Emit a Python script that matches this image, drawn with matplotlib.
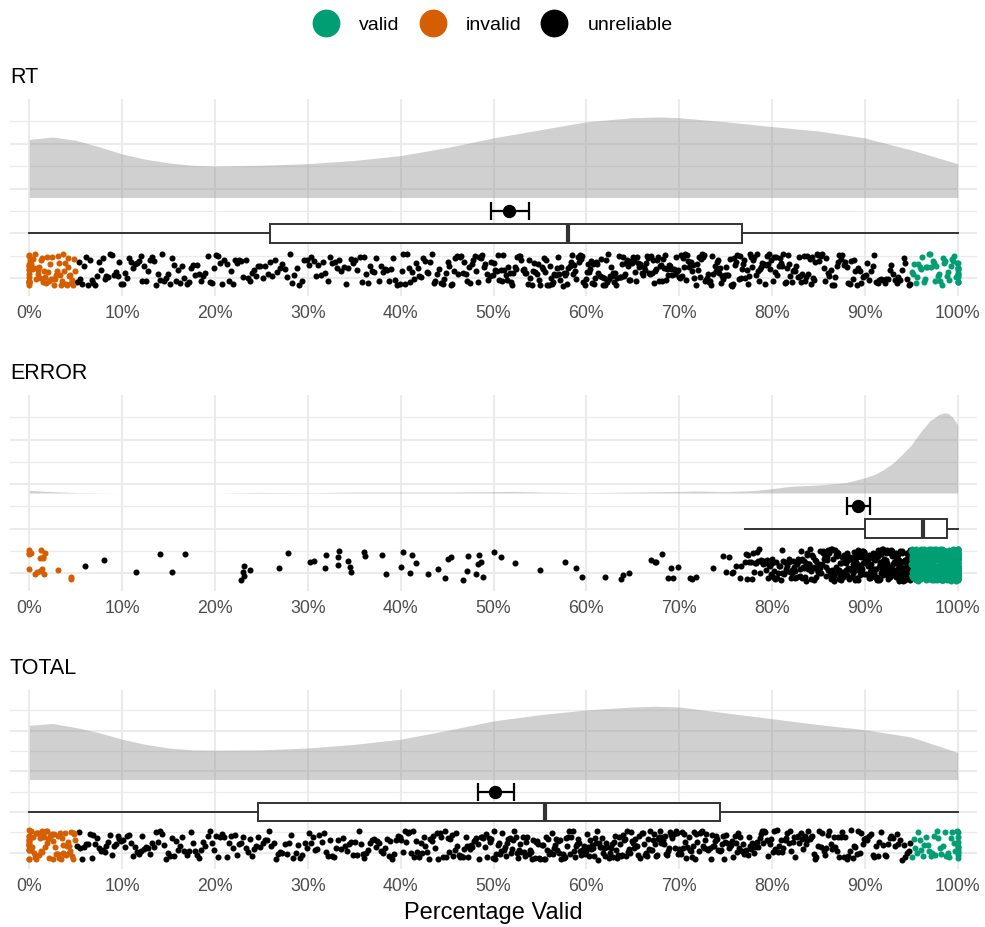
import numpy as np
import matplotlib.pyplot as plt
from matplotlib.lines import Line2D
from matplotlib.ticker import FixedLocator

plt.rcParams['font.family'] = ['Liberation Sans', 'DejaVu Sans']

panel_names = ['RT', 'ERROR', 'TOTAL']
group_names = ['valid', 'invalid', 'unreliable']
group_colors = ['#009E73', '#D55E00', '#000000']
pct_ticks = np.arange(0, 101, 10)
pct_labels = ['{}%'.format(t) for t in pct_ticks]

# participants per 5% bin of percentage valid (0-5, 5-10, ..., 95-100)
bins5 = np.arange(0, 101, 5)
rt_counts = [48, 25, 24, 22, 22, 19, 20, 22, 26, 31, 36, 40, 44, 45, 44, 41, 39, 32, 27, 36]
rt_at_0 = 15
rt_at_100 = 12
total_counts = [55, 25, 24, 22, 22, 21, 22, 25, 29, 34, 39, 42, 45, 45, 42, 39, 35, 32, 27, 30]
total_at_0 = 16
total_at_100 = 10

# ERROR: the few participants below 77%, then counts per 1% bin from 77 to 100
error_low = [0, 0, 0, 0, 0.2, 0.6, 0.8, 1.1, 1.2, 1.3, 1.4, 1.5, 1.5, 1.6, 1.7, 3.1, 4.5, 4.5,
             6.0, 8.0, 11.5, 14.1, 15.4, 16.8, 22.8, 23.0, 23.1, 23.1, 23.8, 26.9, 27.9,
             30.2, 30.7, 31.9, 32.0, 33.3, 33.3, 33.4, 34.3, 34.5, 34.6, 36.0, 36.2, 38.0,
             38.4, 40.0, 40.3, 41.0, 41.2, 41.7, 42.9, 44.0, 44.8, 45.1, 45.4, 46.7, 47.1,
             47.3, 48.1, 48.3, 48.4, 48.6, 48.9, 50.0, 50.8, 52.3, 55.0, 57.7, 58.9, 59.5,
             62.0, 63.7, 64.0, 64.6, 67.0, 67.4, 67.5, 68.1, 68.8, 69.1, 69.3, 69.9, 71.2,
             71.4, 71.8, 73.6, 74.7, 75.0, 75.4, 75.7, 75.8, 76.1, 76.6, 76.7]
bins1 = np.arange(77, 101, 1)
error_counts = [8, 9, 10, 10, 12, 13, 14, 16, 17, 18, 21, 22, 25,
                26, 29, 31, 34, 36, 90, 90, 95, 110, 130]
error_at_100 = 60

# density curves (relative height)
rt_dens_x = [0, 2.5, 5, 7.5, 10, 12.5, 15, 17.5, 20, 25, 30, 35, 40, 45, 50, 55, 60, 65, 68,
             70, 75, 80, 85, 90, 95, 100]
rt_dens = [0.72, 0.75, 0.71, 0.63, 0.54, 0.475, 0.43, 0.40, 0.39, 0.40, 0.42, 0.46, 0.52,
           0.62, 0.74, 0.84, 0.94, 0.99, 1.0, 0.99, 0.94, 0.88, 0.825, 0.74, 0.59, 0.42]
error_dens_x = [0, 2, 5, 10, 15, 20, 25, 30, 35, 40, 45, 50, 52, 55, 60, 65, 70, 72, 75, 78,
                80, 82, 85, 88, 90, 91, 92, 93, 94, 95, 96, 97, 98, 98.6, 99, 99.5, 100]
error_dens = [0.033, 0.02, 0.005, 0, 0, 0, 0.008, 0.004, 0.012, 0.012, 0.012, 0.017, 0.02,
              0.012, 0.004, 0.012, 0.02, 0.025, 0.017, 0.03, 0.054, 0.083, 0.10, 0.13, 0.19,
              0.23, 0.29, 0.37, 0.48, 0.60, 0.76, 0.90, 0.98, 1.0, 0.99, 0.94, 0.85]
total_dens_x = [0, 2.5, 5, 7.5, 10, 12.5, 15, 17.5, 20, 25, 30, 35, 40, 45, 50, 55, 60, 65,
                67.5, 70, 75, 80, 85, 90, 95, 100]
total_dens = [0.74, 0.765, 0.71, 0.64, 0.55, 0.48, 0.43, 0.405, 0.40, 0.405, 0.43, 0.48, 0.55,
              0.67, 0.80, 0.885, 0.95, 0.99, 1.0, 0.99, 0.91, 0.83, 0.75, 0.68, 0.58, 0.37]

# boxplot and mean +/- CI per panel
whisk_lo = [0.0, 77.1, 0.0]
box_q1 = [25.9, 90.0, 24.6]
box_med = [58.0, 96.3, 55.5]
box_q3 = [76.8, 98.9, 74.4]
whisk_hi = [100.0, 100.0, 100.0]
mean_val = [51.7, 89.3, 50.2]
ci_lo = [49.7, 88.1, 48.3]
ci_hi = [53.8, 90.6, 52.2]


def expand(edges, counts):
    vals = []
    for lo, hi, n in zip(edges[:-1], edges[1:], counts):
        vals.extend(lo + (np.arange(n) + 0.5) * (hi - lo) / n)
    return vals


rt_vals = np.array([0.0] * rt_at_0 + expand(bins5, rt_counts) + [100.0] * rt_at_100)
total_vals = np.array([0.0] * total_at_0 + expand(bins5, total_counts) + [100.0] * total_at_100)
error_vals = np.array(error_low + expand(bins1, error_counts) + [100.0] * error_at_100)

values = [rt_vals, error_vals, total_vals]
dens_x = [rt_dens_x, error_dens_x, total_dens_x]
dens_y = [rt_dens, error_dens, total_dens]

fig = plt.figure(figsize=(9.85, 9.28), dpi=100)
ax_rects = [
    [10 / 985, 1 - 297 / 928, 967 / 985, 197 / 928],
    [10 / 985, 1 - 592 / 928, 967 / 985, 196 / 928],
    [10 / 985, 1 - 870 / 928, 967 / 985, 179 / 928],
]

rng = np.random.default_rng(11)
dens_base, dens_height = 1.8, 1.8

for i, name in enumerate(panel_names):
    ax = fig.add_axes(ax_rects[i])
    vals = values[i]

    # half density on top
    dx = np.array(dens_x[i])
    dy = np.array(dens_y[i])
    ax.fill_between(dx, dens_base, dens_base + dy * dens_height,
                    color='#7f7f7f', alpha=0.36, lw=0, zorder=2)

    # jittered raw points, coloured by group
    jit = rng.uniform(-0.17, 0.55, len(vals))
    groups = np.where(vals < 5, 1, np.where(vals >= 95, 0, 2))
    for g in [2, 1, 0]:
        m = groups == g
        ax.scatter(vals[m], jit[m], s=19, color=group_colors[g], lw=0, zorder=3)

    # boxplot
    stats = [dict(med=box_med[i], q1=box_q1[i], q3=box_q3[i],
                  whislo=whisk_lo[i], whishi=whisk_hi[i], fliers=[])]
    ax.bxp(stats, positions=[1.0], widths=0.43, orientation='horizontal',
           showcaps=False, showfliers=False, patch_artist=True,
           boxprops=dict(facecolor='white', edgecolor='#333333', lw=1.4),
           whiskerprops=dict(color='#333333', lw=1.4),
           medianprops=dict(color='#333333', lw=3.0),
           zorder=4)

    # mean with CI
    ax.errorbar([mean_val[i]], [1.5],
                xerr=[[mean_val[i] - ci_lo[i]], [ci_hi[i] - mean_val[i]]],
                fmt='o', color='black', ms=8.6, capsize=6.5,
                elinewidth=1.6, capthick=1.6, zorder=5)

    ax.set_xlim(-2.08, 102.08)
    ax.set_ylim(-0.4, 4.0)
    ax.set_xticks(pct_ticks)
    ax.set_xticklabels(pct_labels)
    ax.set_yticks([0, 1, 2, 3])
    ax.yaxis.set_minor_locator(FixedLocator([0.5, 1.5, 2.5, 3.5]))
    ax.set_yticklabels([])
    ax.tick_params(which='both', length=0)
    ax.tick_params(axis='x', labelsize=12.8, labelcolor='#4d4d4d', pad=5.8)
    ax.grid(which='major', color='#ebebeb', lw=1.5, zorder=0)
    ax.grid(which='minor', axis='y', color='#ebebeb', lw=0.9, zorder=0)
    ax.set_axisbelow(True)
    for sp in ax.spines.values():
        sp.set_visible(False)
    ax.set_title(name, loc='left', fontsize=15.5, pad=12)

    if name == 'TOTAL':
        ax.set_xlabel('Percentage Valid', fontsize=17, labelpad=5)

handles = [Line2D([], [], marker='o', ls='', color=c, markersize=19) for c in group_colors]
fig.legend(handles, group_names, loc='center', bbox_to_anchor=(0.5, 1 - 25.5 / 928),
           ncol=3, frameon=False, fontsize=14, handlelength=1.4,
           handletextpad=1.0, columnspacing=1.0)

fig.savefig('out.png', dpi=100)
